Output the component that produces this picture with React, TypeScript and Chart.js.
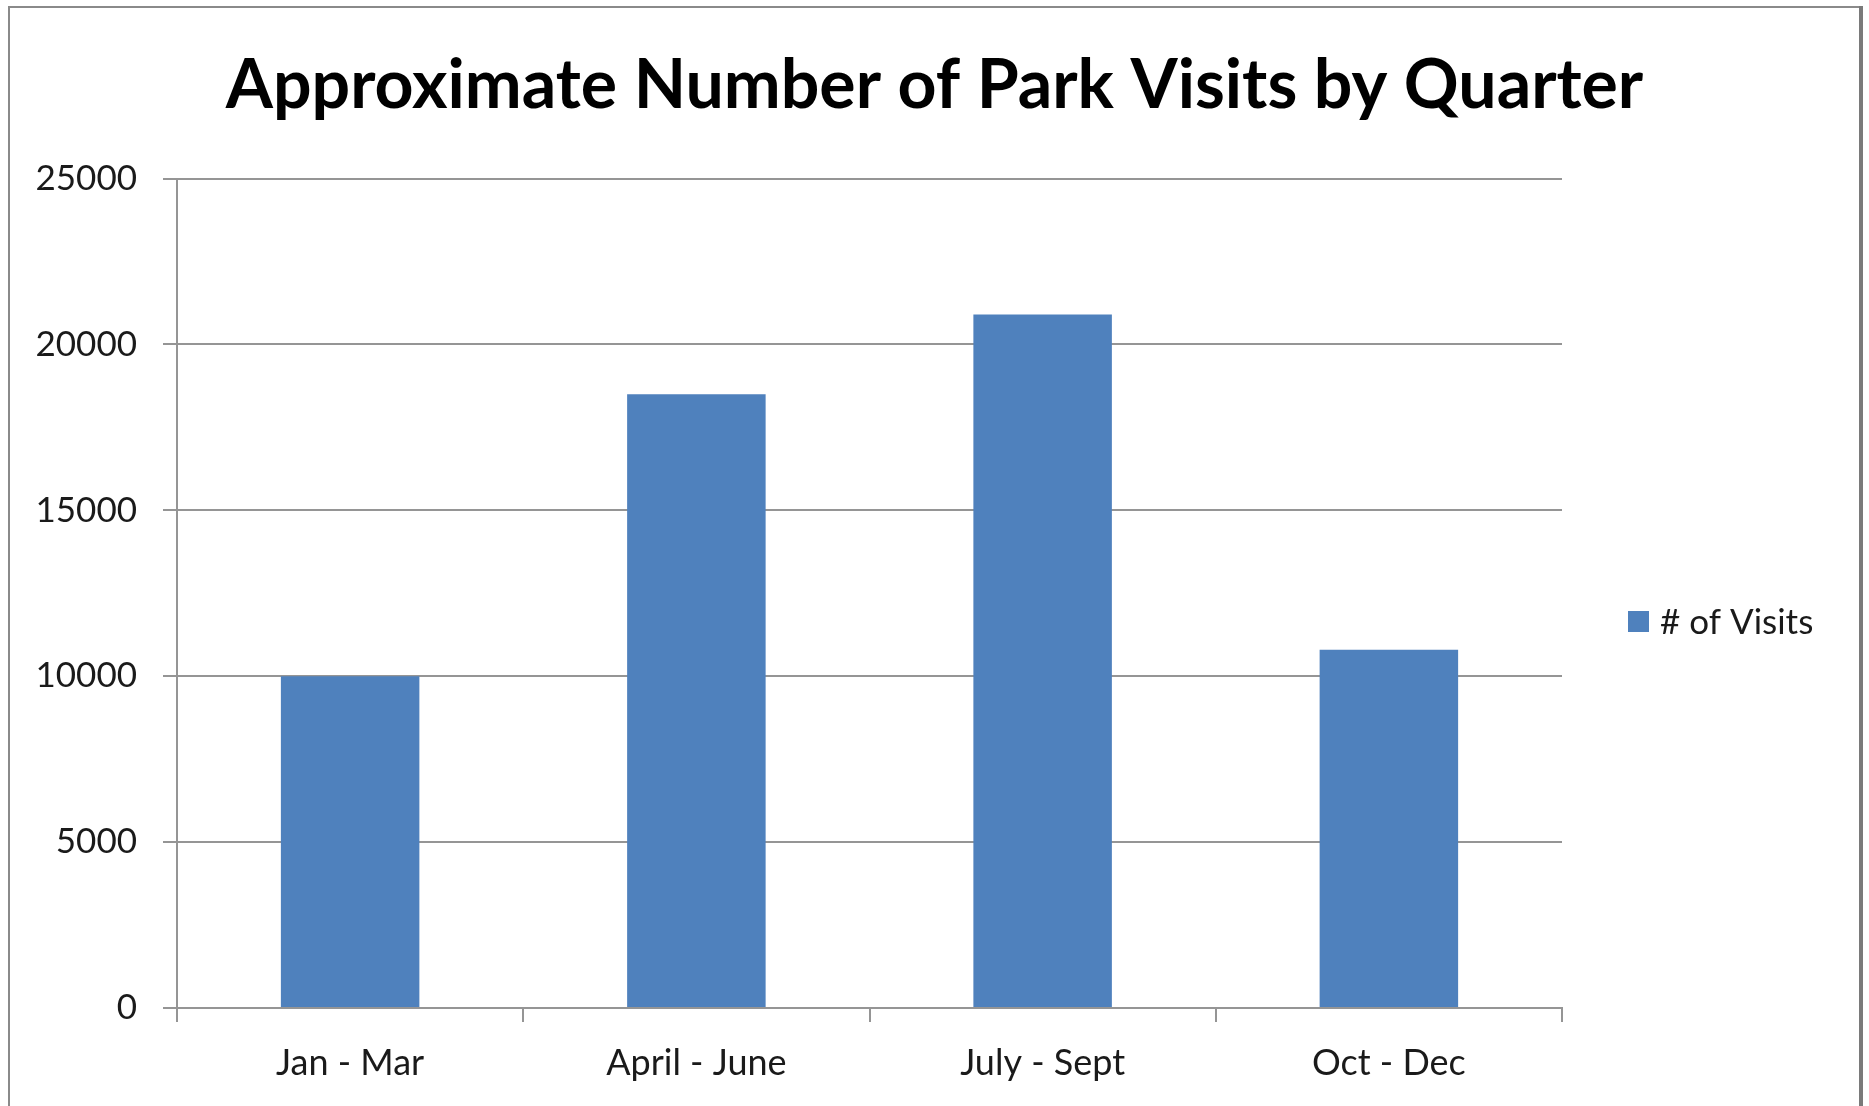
import React, { useEffect, useRef } from "react";
import { Chart, registerables } from "chart.js";

Chart.register(...registerables);

const categories = ["Jan - Mar", "April - June", "July - Sept", "Oct - Dec"];
const visits = [10000, 18500, 20900, 10800];
const seriesLabel = "# of Visits";
const titleText = "Approximate Number of Park Visits by Quarter";
const yTicks = [0, 5000, 10000, 15000, 20000, 25000];

const W = 1869;
const H = 1106;
const FONT = "Lato, 'Open Sans', sans-serif";
const GRID = "#959595";
const BAR = "#4F81BD";

const framePlugin = {
  id: "frame",
  beforeDraw(chart: any) {
    const ctx = chart.ctx;
    ctx.save();
    ctx.fillStyle = "#ffffff";
    ctx.fillRect(0, 0, W, H);
    ctx.strokeStyle = "#8a8a8a";
    ctx.lineWidth = 2;
    ctx.beginPath();
    ctx.moveTo(9, H + 10);
    ctx.lineTo(9, 7);
    ctx.lineTo(1861, 7);
    ctx.stroke();
    ctx.strokeStyle = "#7a7a7a";
    ctx.lineWidth = 4;
    ctx.beginPath();
    ctx.moveTo(1861, 6);
    ctx.lineTo(1861, H + 10);
    ctx.stroke();
    ctx.restore();
  },
};

const legendPlugin = {
  id: "customLegend",
  afterDraw(chart: any) {
    const ctx = chart.ctx;
    const ds = chart.data.datasets[0];
    ctx.save();
    ctx.fillStyle = ds.backgroundColor;
    ctx.fillRect(1628, 611, 21, 21);
    ctx.fillStyle = "#1a1a1a";
    ctx.font = `35px ${FONT}`;
    ctx.textBaseline = "middle";
    ctx.textAlign = "left";
    ctx.fillText(ds.label, 1660, 623);
    ctx.restore();
  },
};

export default function App() {
  const ref = useRef<HTMLCanvasElement | null>(null);

  useEffect(() => {
    const canvas = ref.current;
    if (!canvas) return;
    const chart = new Chart(canvas, {
      type: "bar",
      data: {
        labels: categories,
        datasets: [
          {
            label: seriesLabel,
            data: visits,
            backgroundColor: BAR,
            borderWidth: 0,
            barPercentage: 0.4,
            categoryPercentage: 1,
          },
        ],
      },
      options: {
        responsive: false,
        animation: false,
        devicePixelRatio: 1,
        layout: { padding: { left: 0, right: 0, top: 0, bottom: 0 } },
        plugins: {
          legend: { display: false },
          tooltip: { enabled: false },
          title: {
            display: true,
            text: titleText,
            color: "#000000",
            font: { family: FONT, size: 68, weight: "bold", lineHeight: 1.2 },
            padding: { top: 45.5, bottom: 51.4 },
          },
        },
        scales: {
          x: {
            offset: true,
            grid: {
              display: true,
              offset: true,
              drawOnChartArea: false,
              drawTicks: true,
              tickLength: 14,
              color: GRID,
              lineWidth: 2,
            },
            border: { display: true, color: GRID, width: 2 },
            ticks: {
              color: "#1a1a1a",
              font: { family: FONT, size: 36 },
              padding: 20,
              maxRotation: 0,
            },
            afterFit: (scale: any) => {
              scale.height = 98;
            },
          },
          y: {
            min: 0,
            max: 25000,
            afterBuildTicks: (scale: any) => {
              scale.ticks = yTicks.map((v) => ({ value: v }));
            },
            grid: {
              color: GRID,
              lineWidth: 2,
              drawTicks: true,
              tickLength: 14,
            },
            border: { display: true, color: GRID, width: 2 },
            ticks: {
              color: "#1a1a1a",
              font: { family: FONT, size: 35 },
              padding: 26,
              callback: (v: any) => String(v),
            },
            afterFit: (scale: any) => {
              scale.width = 177;
            },
          },
          legendSpace: {
            type: "linear",
            position: "right",
            display: true,
            grid: { display: false, drawTicks: false },
            border: { display: false },
            ticks: { display: false },
            afterFit: (scale: any) => {
              scale.width = 307;
            },
          },
        },
      },
      plugins: [framePlugin, legendPlugin],
    });
    return () => chart.destroy();
  }, []);

  return (
    <div style={{ position: "fixed", left: 0, top: 0, width: W, height: H, background: "#fff" }}>
      <canvas ref={ref} width={W} height={H} style={{ width: W, height: H, display: "block" }} />
    </div>
  );
}
